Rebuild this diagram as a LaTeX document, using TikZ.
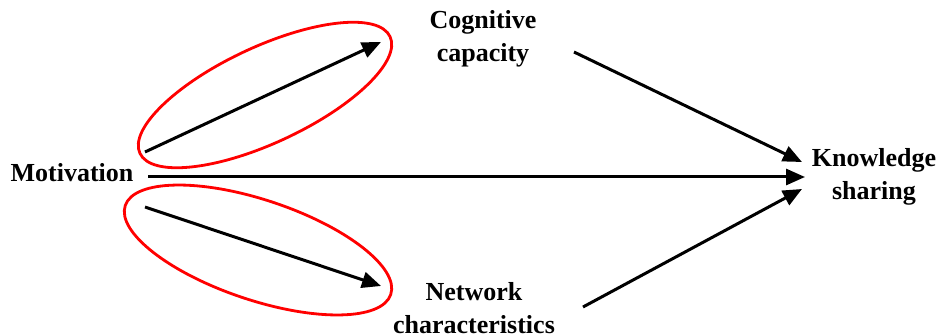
\documentclass[tikz,border=0pt]{standalone}
\usepackage{fontspec}
\setmainfont{Liberation Serif}
\usetikzlibrary{arrows.meta}
\begin{document}
\begin{tikzpicture}[x=1pt,y=1pt,
  lbl/.style={font=\fontsize{26}{33}\selectfont\bfseries, align=center, inner sep=0pt},
  arr/.style={line width=3pt, -{Triangle[length=19pt,width=16pt]}},
  ring/.style={draw=red, line width=2.8pt}]
\useasboundingbox (0,0) rectangle (942,335);
\node[lbl] (mot) at (72,162) {Motivation};
\node[lbl] (cog) at (483,296) {Cognitive\\capacity};
\node[lbl] (net) at (474,27) {Network\\characteristics};
\node[lbl] (ks) at (874,158) {Knowledge\\sharing};
\coordinate (m0) at (148,158);
\coordinate (m1) at (805,158);
\coordinate (u0) at (145,183);
\coordinate (u1) at (381,293);
\coordinate (d0) at (145,128);
\coordinate (d1) at (381,49);
\coordinate (c0) at (574,283);
\coordinate (c1) at (802,173);
\coordinate (n0) at (583,28);
\coordinate (n1) at (802,146);
\draw[arr] (m0) -- (m1);
\draw[arr] (u0) -- (u1);
\draw[arr] (d0) -- (d1);
\draw[arr] (c0) -- (c1);
\draw[arr] (n0) -- (n1);
\draw[ring] (265,240) ellipse [x radius=138, y radius=48, rotate=25];
\draw[ring] (258,85) ellipse [x radius=140, y radius=50, rotate=-18.5];
\end{tikzpicture}
\end{document}
